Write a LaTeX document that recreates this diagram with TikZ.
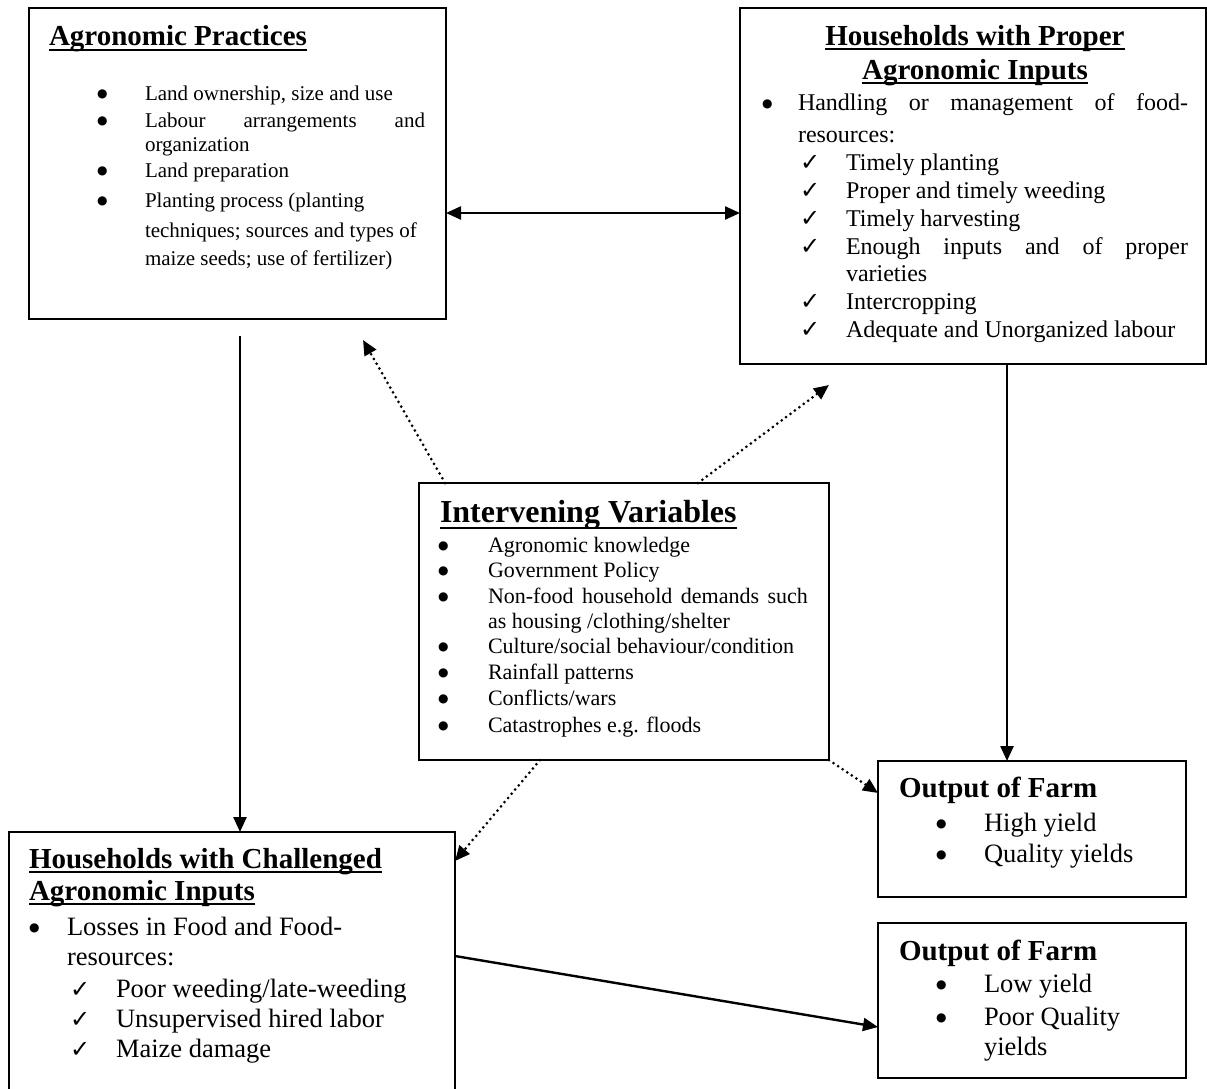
\documentclass[tikz,border=0pt]{standalone}
\usepackage{fontspec}
\setmainfont{Liberation Serif}
\newfontfamily\chkfont{DejaVu Sans}
\usetikzlibrary{arrows.meta}
\newcommand\myul[2][-6pt]{\setbox0\hbox{#2}\rlap{\rule[#1]{\wd0}{2.2pt}}\box0}
\newcommand\ck{\smash{\chkfont\fontsize{24}{24}\selectfont ✓}}
\newcommand\bul{\raisebox{0.12em}{\chkfont\fontsize{12}{12}\selectfont ●}}
\tikzset{
  box/.style={draw, line width=2.4pt, anchor=north west, inner sep=0pt, outer sep=0pt},
  txtline/.style={anchor=base west, inner sep=0pt, outer sep=0pt},
  ttl/.style={inner sep=0pt, outer sep=0pt, font=\fontsize{29}{34}\selectfont\bfseries},
  arr/.style={line width=2.4pt, -{Triangle[length=15pt,width=13pt]}},
  dotarr/.style={line width=3pt, dash pattern=on 0pt off 5.5pt, line cap=round, -{Triangle[length=15pt,width=13pt]}},
  fa/.style={font=\fontsize{21}{25}\selectfont},
  fb/.style={font=\fontsize{24}{28}\selectfont},
  fc/.style={font=\fontsize{22}{26}\selectfont},
  fd/.style={font=\fontsize{26.5}{30}\selectfont},
}
\begin{document}
\begin{tikzpicture}[x=1pt,y=-1pt]
\fill[white] (0,0) rectangle (1207,1088);
\useasboundingbox (0,0) rectangle (1207,1088);
\clip (0,0) rectangle (1207,1088);

% boxes
\node[box, minimum width=417pt, minimum height=311pt] (ap) at (29,8) {};
\node[box, minimum width=466pt, minimum height=356pt] (hp) at (740,8) {};
\node[box, minimum width=410pt, minimum height=277pt] (iv) at (419,483) {};
\node[box, minimum width=446pt, minimum height=268pt] (hc) at (9,832) {};
\node[box, minimum width=308pt, minimum height=136pt] (o1) at (878,761) {};
\node[box, minimum width=308pt, minimum height=155pt] (o2) at (878,923) {};

% Agronomic Practices
\node[ttl, anchor=base west] (apt) at (49,45) {\myul{Agronomic Practices}};
\node[txtline, fa] (ap1) at (97,100) {\makebox[48pt][l]{\bul}Land ownership, size and use};
\node[txtline, fa] (ap2) at (97,127) {\makebox[48pt][l]{\bul}\makebox[280pt][s]{Labour arrangements and}};
\node[txtline, fa] (ap3) at (145,151) {organization};
\node[txtline, fa] (ap4) at (97,177) {\makebox[48pt][l]{\bul}Land preparation};
\node[txtline, fa] (ap5) at (97,207) {\makebox[48pt][l]{\bul}Planting process (planting};
\node[txtline, fa] (ap6) at (145,237) {techniques; sources and types of};
\node[txtline, fa] (ap7) at (145,265) {maize seeds; use of fertilizer)};

% Households with Proper Agronomic Inputs
\node[ttl, anchor=base] (hpt1) at (975,45) {\myul[-5pt]{Households with Proper}};
\node[ttl, anchor=base] (hpt2) at (975,79) {\myul[-5pt]{Agronomic Inputs}};
\node[txtline, fb] (hp1) at (762,110) {\makebox[36pt][l]{\bul}\makebox[390pt][s]{Handling or management of food-}};
\node[txtline, fb] (hp2) at (798,142) {resources:};
\node[txtline, fb] (hp3) at (800,170) {\makebox[46pt][l]{\ck}Timely planting};
\node[txtline, fb] (hp4) at (800,198) {\makebox[46pt][l]{\ck}Proper and timely weeding};
\node[txtline, fb] (hp5) at (800,226) {\makebox[46pt][l]{\ck}Timely harvesting};
\node[txtline, fb] (hp6) at (800,254) {\makebox[46pt][l]{\ck}\makebox[342pt][s]{Enough inputs and of proper}};
\node[txtline, fb] (hp7) at (846,281) {varieties};
\node[txtline, fb] (hp8) at (800,309) {\makebox[46pt][l]{\ck}Intercropping};
\node[txtline, fb] (hp9) at (800,337) {\makebox[46pt][l]{\ck}Adequate and Unorganized labour};

% Intervening Variables
\node[ttl, anchor=base west, font=\fontsize{32}{36}\selectfont\bfseries] (ivt) at (440,522) {\myul[-7pt]{Intervening Variables}};
\node[txtline, fc] (iv1) at (438,552) {\makebox[50pt][l]{\bul}Agronomic knowledge};
\node[txtline, fc] (iv2) at (438,577) {\makebox[50pt][l]{\bul}Government Policy};
\node[txtline, fc] (iv3) at (438,603) {\makebox[50pt][l]{\bul}\makebox[320pt][s]{Non-food household demands such}};
\node[txtline, fc] (iv4) at (488,628) {as housing /clothing/shelter};
\node[txtline, fc] (iv5) at (438,653) {\makebox[50pt][l]{\bul}Culture/social behaviour/condition};
\node[txtline, fc] (iv6) at (438,679) {\makebox[50pt][l]{\bul}Rainfall patterns};
\node[txtline, fc] (iv7) at (438,705) {\makebox[50pt][l]{\bul}Conflicts/wars};
\node[txtline, fc] (iv8) at (438,732) {\makebox[50pt][l]{\bul}Catastrophes e.g. floods};

% Households with Challenged Agronomic Inputs
\node[ttl, anchor=base west] (hct1) at (29,868) {\myul[-5pt]{Households with Challenged}};
\node[ttl, anchor=base west] (hct2) at (29,900) {\myul[-5pt]{Agronomic Inputs}};
\node[txtline, fd] (hc1) at (29,935) {\makebox[38pt][l]{\bul}Losses in Food and Food-};
\node[txtline, fd] (hc2) at (67,965) {resources:};
\node[txtline, fd] (hc3) at (70,997) {\makebox[46pt][l]{\ck}Poor weeding/late-weeding};
\node[txtline, fd] (hc4) at (70,1027) {\makebox[46pt][l]{\ck}Unsupervised hired labor};
\node[txtline, fd] (hc5) at (70,1057) {\makebox[46pt][l]{\ck}Maize damage};

% Output of Farm (high)
\node[ttl, anchor=base west] (o1t) at (899,797) {Output of Farm};
\node[txtline, fd] (o11) at (936,831) {\makebox[48pt][l]{\bul}High yield};
\node[txtline, fd] (o12) at (936,862) {\makebox[48pt][l]{\bul}Quality yields};

% Output of Farm (low)
\node[ttl, anchor=base west] (o2t) at (899,960) {Output of Farm};
\node[txtline, fd] (o21) at (936,992) {\makebox[48pt][l]{\bul}Low yield};
\node[txtline, fd] (o22) at (936,1025) {\makebox[48pt][l]{\bul}Poor Quality};
\node[txtline, fd] (o23) at (984,1055) {yields};

% free ends of dotted arrows
\coordinate (d1) at (363,340);
\coordinate (d2) at (829,385);

% connectors
\draw[arr, {Triangle[length=15pt,width=13pt]}-{Triangle[length=15pt,width=13pt]}] ([yshift=-49.5pt]ap.east) -- ([yshift=-27pt]hp.west);
\draw[arr] ([xshift=2.5pt,yshift=-17pt]ap.south) -- ([xshift=8pt]hc.north);
\draw[arr] ([xshift=34pt]hp.south) -- ([xshift=-25pt]o1.north);
\draw[arr] ([yshift=10pt]hc.east) -- ([yshift=-26.5pt]o2.west);
\draw[dotarr] ([xshift=-179pt]iv.north) -- (d1);
\draw[dotarr] ([xshift=74pt]iv.north) -- (d2);
\draw[dotarr] ([xshift=-84pt]iv.south) -- ([yshift=105pt]hc.east);
\draw[dotarr] (iv.south east) -- ([yshift=36pt]o1.west);
\end{tikzpicture}
\end{document}
